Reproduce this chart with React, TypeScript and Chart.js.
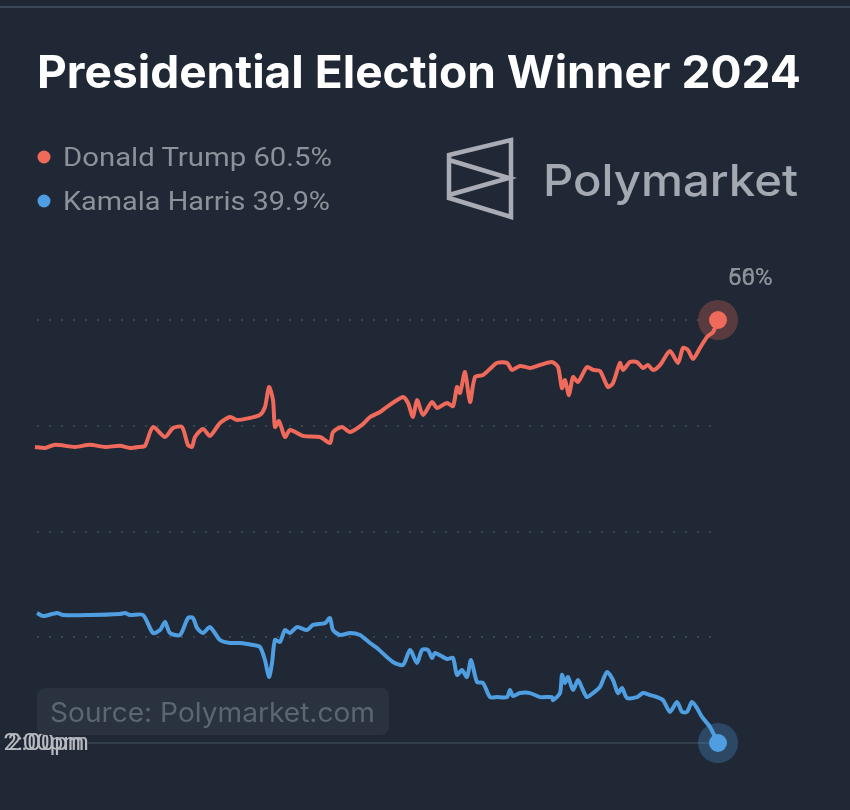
import React, { useEffect, useRef } from "react";
import { Chart, registerables } from "chart.js";

Chart.register(...registerables);

// time steps (relative units across the period)
const trumpT = [0,10,20,40,55,70,85,95,105,110,118,130,138,147,153,157,160,168,175,185,195,202,215,225,230,234,238,240,244,250,255,268,285,295,298,307,315,327,335,345,352,368,373,378,382,388,397,402,412,418,422,425,430,435,440,448,457,462,472,477,485,495,505,517,523,527,530,534,538,543,552,558,565,573,578,585,588,595,602,608,613,618,625,635,643,648,653,658,665,672,678,683];
const trumpV = [54.0,53.95,54.1,54.0,54.1,54.0,54.05,53.95,54.0,54.05,54.94,54.47,54.89,54.94,54.09,54.0,54.47,54.85,54.52,55.13,55.41,55.27,55.37,55.51,55.89,56.83,56.22,54.94,55.22,54.47,54.8,54.52,54.47,54.18,54.7,54.94,54.7,55.04,55.41,55.65,55.89,56.36,56.08,55.41,56.22,55.51,56.12,55.84,56.08,55.93,56.83,56.55,57.54,56.12,57.3,57.4,57.78,57.97,57.97,57.64,57.83,57.73,57.87,58.01,57.78,56.78,57.16,56.45,57.3,57.07,57.78,57.64,57.59,56.83,57.02,57.97,57.64,58.01,58.01,57.73,57.87,57.64,57.87,58.53,57.97,58.68,58.58,58.16,58.68,59.2,59.43,60.0];

const harrisT = [2,8,22,28,55,85,90,95,108,118,125,130,135,145,153,158,162,168,175,185,195,205,218,225,230,234,237,240,245,250,255,262,272,278,290,295,298,305,315,325,335,342,358,368,375,382,387,393,397,400,412,418,422,427,432,436,442,448,455,462,472,475,478,485,495,505,517,518,525,527,530,533,538,543,547,552,558,565,572,578,583,587,592,602,608,615,622,628,635,642,647,652,657,662,667,675,683];
const harrisV = [46.15,46.0,46.15,46.05,46.05,46.1,46.15,46.05,46.05,45.2,45.34,45.72,45.2,45.11,45.91,45.91,45.44,45.2,45.48,44.87,44.73,44.73,44.63,44.54,43.92,43.12,43.78,44.87,44.78,45.34,45.2,45.48,45.34,45.58,45.67,45.91,45.34,45.11,45.2,45.11,44.73,44.49,43.83,43.69,44.4,43.78,44.4,44.4,44.02,44.26,43.97,44.02,43.22,43.45,43.12,43.92,42.88,42.84,42.17,42.17,42.17,42.51,42.22,42.36,42.36,42.17,42.17,42.03,42.36,43.22,42.84,43.12,42.51,42.98,42.6,42.17,42.36,42.65,43.36,42.98,42.36,42.6,42.13,42.17,42.36,42.27,42.17,42.03,41.47,41.94,41.47,41.47,41.94,41.65,41.23,40.76,40.0];

const seriesNames = ["Donald Trump", "Kamala Harris"];
const seriesLatest = ["60.5%", "39.9%"];
const gridValues = [60, 55, 50, 45];
const baseValue = 40;
const endLabels = ["56%", "60%"];
const timeLabels = ["12:00pm", "2:00pm"];

const RED = "#ef6a5b";
const BLUE = "#4f9ee2";
const BG = "#1f2834";

const overlayPlugin = {
  id: "overlay",
  beforeDatasetsDraw(chart: any) {
    const { ctx, chartArea, scales } = chart;
    const y = scales.y;
    ctx.save();
    ctx.strokeStyle = "#3a4451";
    ctx.lineWidth = 2;
    ctx.setLineDash([2, 10]);
    gridValues.forEach((v) => {
      const py = Math.round(y.getPixelForValue(v));
      ctx.beginPath();
      ctx.moveTo(chartArea.left + 2, py);
      ctx.lineTo(chartArea.right, py);
      ctx.stroke();
    });
    ctx.setLineDash([]);
    ctx.strokeStyle = "#3a4452";
    ctx.lineWidth = 1.5;
    const by = Math.round(y.getPixelForValue(baseValue));
    ctx.beginPath();
    ctx.moveTo(chartArea.left + 53, by);
    ctx.lineTo(chartArea.right, by);
    ctx.stroke();
    // halos
    const colors = ["rgba(239,106,91,0.28)", "rgba(79,158,226,0.28)"];
    chart.data.datasets.forEach((_d: any, i: number) => {
      const meta = chart.getDatasetMeta(i);
      const last = meta.data[meta.data.length - 1];
      ctx.fillStyle = colors[i];
      ctx.beginPath();
      ctx.arc(last.x, last.y, 20, 0, Math.PI * 2);
      ctx.fill();
    });
    // time labels on baseline
    ctx.font = "24px Roboto";
    ctx.textBaseline = "middle";
    ctx.fillStyle = "#b7bac0";
    ctx.fillText(timeLabels[0], -10, by + 1);
    ctx.fillText(timeLabels[1], 8, by + 1);
    // end labels
    const meta0 = chart.getDatasetMeta(0);
    const p = meta0.data[meta0.data.length - 1];
    ctx.font = "24px Roboto";
    ctx.fillStyle = "#8d9299";
    ctx.textBaseline = "alphabetic";
    endLabels.forEach((t) => ctx.fillText(t, p.x + 10, p.y - 35));
    ctx.restore();
  },
};

export default function App() {
  const ref = useRef<HTMLCanvasElement | null>(null);
  useEffect(() => {
    document.body.style.margin = "0";
    document.body.style.background = BG;
    const mk = (t: number[], v: number[]) => t.map((x, i) => ({ x, y: v[i] }));
    const chart = new Chart(ref.current!, {
      type: "line",
      data: {
        datasets: [
          {
            label: seriesNames[0],
            data: mk(trumpT, trumpV),
            borderColor: RED,
            backgroundColor: RED,
            borderWidth: 4,
            tension: 0.25,
            clip: false as any,
            pointRadius: (c: any) => (c.dataIndex === trumpT.length - 1 ? 9 : 0),
            pointBorderWidth: 0,
          },
          {
            label: seriesNames[1],
            data: mk(harrisT, harrisV),
            borderColor: BLUE,
            backgroundColor: BLUE,
            borderWidth: 4,
            tension: 0.25,
            clip: false as any,
            pointRadius: (c: any) => (c.dataIndex === harrisT.length - 1 ? 9 : 0),
            pointBorderWidth: 0,
          },
        ],
      },
      options: {
        animation: false,
        responsive: true,
        maintainAspectRatio: false,
        layout: { padding: { left: 35, right: 132, top: 320, bottom: 67 } },
        plugins: { legend: { display: false }, tooltip: { enabled: false } },
        scales: {
          x: { type: "linear", min: 0, max: 683, display: false },
          y: { type: "linear", min: 40, max: 60, display: false },
        },
      },
      plugins: [overlayPlugin],
    });
    return () => chart.destroy();
  }, []);

  return (
    <div style={{ position: "relative", width: 850, height: 810, background: BG, overflow: "hidden" }}>
      <canvas ref={ref} style={{ position: "absolute", left: 0, top: 0, width: 850, height: 810 }} />
      <svg width={850} height={810} style={{ position: "absolute", left: 0, top: 0, pointerEvents: "none" }}>
        <rect x={0} y={6} width={850} height={2} fill="#3b4759" />
        <text x={37} y={88} fontFamily="Inter" fontWeight={700} fontSize={45} fill="#ffffff" textLength={764} lengthAdjust="spacingAndGlyphs">
          Presidential Election Winner 2024
        </text>
        <circle cx={44} cy={157} r={6.5} fill={RED} />
        <circle cx={44} cy={201} r={6.5} fill={BLUE} />
        <text x={63} y={166} fontFamily="Roboto" fontSize={26} fill="#8d929a" textLength={269} lengthAdjust="spacingAndGlyphs">
          {seriesNames[0] + " " + seriesLatest[0]}
        </text>
        <text x={63} y={210} fontFamily="Roboto" fontSize={26} fill="#8d929a" textLength={267} lengthAdjust="spacingAndGlyphs">
          {seriesNames[1] + " " + seriesLatest[1]}
        </text>
        <g stroke="#a9acb5" strokeWidth={4.5} fill="none" strokeLinejoin="miter">
          <polygon points="449,155 511,140 511,217 449,198" />
          <polyline points="449,160 509,178 449,195" />
        </g>
        <text x={543} y={196} fontFamily="Inter" fontWeight={500} fontSize={44} fill="#a4a8b1" textLength={255} lengthAdjust="spacingAndGlyphs">
          Polymarket
        </text>
        <rect x={37} y={688} width={352} height={47} rx={8} fill="#29323e" />
        <text x={50} y={722} fontFamily="Inter" fontSize={27} fill="#5c6572" textLength={325} lengthAdjust="spacingAndGlyphs">
          Source: Polymarket.com
        </text>
      </svg>
    </div>
  );
}
